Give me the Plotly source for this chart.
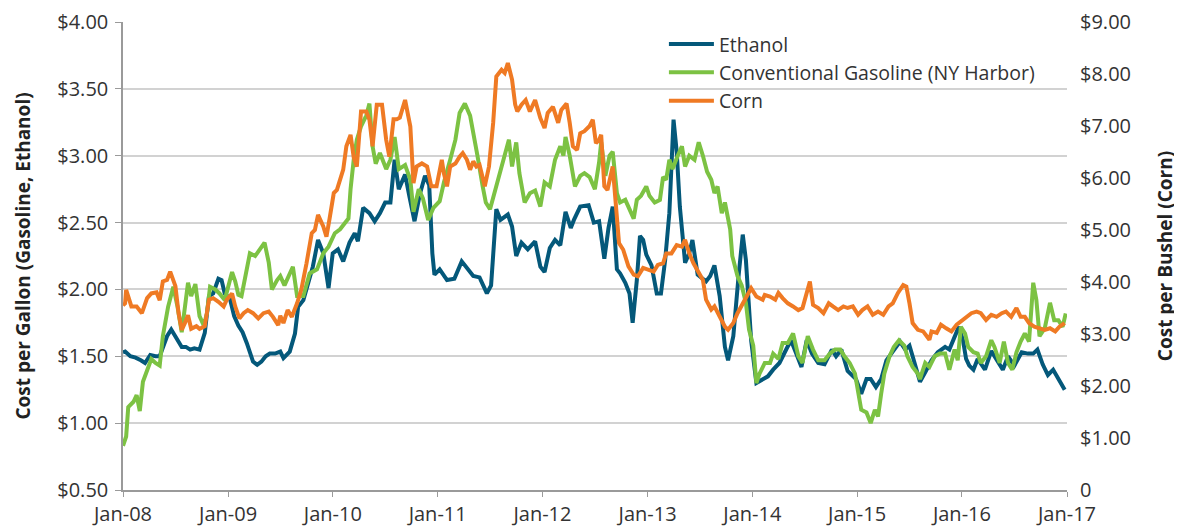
import pandas as pd
import plotly.graph_objects as go

# ---- data (time in years after Jan 2008, values in $) ----
ethanol_t = [0.00,0.02,0.07,0.12,0.17,0.21,0.26,0.31,0.35,0.38,0.42,0.46,0.51,0.56,0.60,0.64,0.68,0.73,0.78,0.82,0.86,0.91,0.94,0.97,1.02,1.06,1.10,1.14,1.18,1.24,1.28,1.32,1.36,1.40,1.45,1.50,1.53,1.59,1.64,1.67,1.72,1.77,1.81,1.86,1.91,1.96,2.00,2.05,2.10,2.16,2.21,2.24,2.29,2.35,2.40,2.45,2.50,2.55,2.59,2.63,2.69,2.73,2.78,2.83,2.88,2.92,2.95,2.97,3.02,3.09,3.16,3.23,3.29,3.34,3.40,3.47,3.51,3.56,3.60,3.67,3.71,3.75,3.80,3.86,3.93,3.98,4.02,4.07,4.12,4.17,4.22,4.27,4.30,4.36,4.44,4.49,4.54,4.59,4.63,4.67,4.71,4.74,4.79,4.83,4.86,4.90,4.93,4.96,4.99,5.04,5.09,5.13,5.17,5.21,5.25,5.28,5.31,5.36,5.40,5.43,5.48,5.56,5.60,5.64,5.69,5.74,5.77,5.82,5.87,5.91,5.94,5.99,6.04,6.10,6.15,6.20,6.26,6.33,6.37,6.42,6.47,6.52,6.57,6.63,6.69,6.76,6.80,6.85,6.91,6.99,7.04,7.09,7.13,7.18,7.23,7.28,7.33,7.38,7.41,7.46,7.50,7.53,7.57,7.60,7.65,7.71,7.77,7.84,7.88,7.93,7.97,8.01,8.04,8.07,8.11,8.15,8.22,8.28,8.34,8.39,8.44,8.50,8.57,8.63,8.68,8.72,8.77,8.82,8.87,8.93,8.98]
ethanol = [1.53,1.535,1.50,1.49,1.47,1.45,1.51,1.50,1.50,1.57,1.65,1.70,1.64,1.57,1.57,1.55,1.56,1.55,1.675,1.95,1.97,2.08,2.07,1.97,1.93,1.80,1.73,1.68,1.60,1.46,1.436,1.46,1.50,1.52,1.52,1.535,1.486,1.535,1.67,1.87,1.92,2.07,2.17,2.37,2.27,2.01,2.27,2.30,2.21,2.35,2.42,2.36,2.61,2.57,2.51,2.57,2.65,2.65,2.97,2.75,2.86,2.70,2.51,2.71,2.85,2.78,2.27,2.11,2.15,2.07,2.08,2.21,2.15,2.10,2.09,1.97,2.03,2.60,2.52,2.56,2.47,2.25,2.35,2.30,2.36,2.17,2.13,2.31,2.37,2.33,2.58,2.46,2.52,2.62,2.63,2.50,2.51,2.23,2.46,2.62,2.15,2.12,2.05,1.97,1.75,2.07,2.40,2.37,2.26,2.18,1.97,1.97,2.22,2.57,3.27,3.03,2.62,2.20,2.27,2.37,2.11,2.06,2.10,2.18,1.95,1.57,1.47,1.65,2.10,2.41,2.22,1.62,1.30,1.33,1.35,1.40,1.45,1.56,1.62,1.52,1.42,1.62,1.52,1.45,1.44,1.55,1.50,1.55,1.39,1.33,1.22,1.33,1.33,1.27,1.33,1.47,1.52,1.57,1.61,1.55,1.58,1.50,1.38,1.31,1.38,1.47,1.53,1.57,1.55,1.65,1.72,1.62,1.48,1.43,1.40,1.48,1.40,1.54,1.46,1.40,1.50,1.43,1.53,1.52,1.52,1.55,1.44,1.36,1.40,1.31,1.25]

gasoline_t = [0.00,0.03,0.05,0.10,0.13,0.16,0.19,0.24,0.27,0.31,0.35,0.38,0.43,0.48,0.52,0.56,0.59,0.62,0.65,0.69,0.73,0.77,0.80,0.83,0.88,0.92,0.97,1.00,1.04,1.07,1.10,1.13,1.17,1.21,1.26,1.31,1.35,1.39,1.42,1.47,1.50,1.54,1.58,1.62,1.66,1.72,1.78,1.85,1.91,1.96,2.02,2.07,2.12,2.15,2.17,2.20,2.23,2.27,2.32,2.35,2.38,2.41,2.45,2.51,2.55,2.59,2.63,2.69,2.74,2.77,2.82,2.86,2.91,2.96,3.02,3.06,3.12,3.17,3.21,3.26,3.31,3.34,3.38,3.43,3.46,3.50,3.55,3.59,3.64,3.68,3.71,3.75,3.78,3.83,3.88,3.93,3.98,4.02,4.07,4.12,4.17,4.20,4.22,4.26,4.31,4.36,4.40,4.45,4.50,4.54,4.56,4.60,4.64,4.67,4.71,4.74,4.79,4.83,4.87,4.90,4.94,4.99,5.02,5.07,5.12,5.15,5.18,5.21,5.24,5.29,5.33,5.36,5.40,5.45,5.49,5.53,5.57,5.61,5.64,5.67,5.71,5.74,5.77,5.79,5.81,5.86,5.90,5.94,5.97,6.01,6.04,6.07,6.12,6.17,6.20,6.25,6.29,6.34,6.39,6.44,6.48,6.53,6.58,6.63,6.69,6.74,6.79,6.84,6.88,6.93,6.98,7.01,7.04,7.09,7.13,7.17,7.20,7.23,7.26,7.31,7.35,7.40,7.45,7.48,7.53,7.58,7.60,7.65,7.69,7.74,7.79,7.84,7.88,7.93,7.96,7.99,8.03,8.06,8.11,8.15,8.18,8.23,8.28,8.31,8.36,8.40,8.44,8.48,8.52,8.56,8.60,8.64,8.68,8.71,8.74,8.79,8.84,8.88,8.92,8.96,8.99]
gasoline = [0.83,0.90,1.12,1.16,1.21,1.09,1.31,1.41,1.48,1.45,1.43,1.65,1.87,2.02,1.87,1.68,1.87,2.05,1.95,2.04,1.80,1.73,1.82,2.02,2.00,1.97,1.92,2.00,2.13,2.06,1.96,1.95,2.12,2.27,2.25,2.31,2.35,2.20,2.00,2.07,2.10,2.03,2.10,2.17,1.95,1.95,2.12,2.15,2.27,2.32,2.42,2.45,2.50,2.53,2.75,2.97,3.12,3.22,3.30,3.39,3.07,2.94,3.02,2.90,2.97,3.14,2.90,2.93,2.82,2.58,2.75,2.68,2.52,2.61,2.66,2.80,2.97,3.12,3.32,3.39,3.30,3.18,3.00,2.77,2.65,2.60,2.75,2.85,3.00,3.12,2.92,3.10,2.87,2.65,2.72,2.74,2.62,2.80,2.77,2.97,3.07,3.00,3.14,3.00,2.77,2.85,2.87,2.84,2.75,2.95,3.10,2.85,3.00,3.03,2.72,2.65,2.67,2.60,2.53,2.67,2.70,2.77,2.70,2.65,2.67,2.84,2.82,2.97,2.90,3.00,3.07,2.92,3.00,2.97,3.10,3.00,2.88,2.82,2.72,2.77,2.57,2.65,2.53,2.45,2.25,2.10,2.03,1.90,1.70,1.58,1.30,1.37,1.45,1.45,1.52,1.48,1.60,1.60,1.67,1.50,1.45,1.65,1.55,1.47,1.47,1.52,1.55,1.55,1.50,1.45,1.37,1.25,1.10,1.08,1.00,1.10,1.05,1.22,1.37,1.50,1.57,1.62,1.58,1.50,1.42,1.37,1.33,1.45,1.42,1.50,1.52,1.52,1.40,1.55,1.47,1.72,1.67,1.57,1.53,1.52,1.45,1.50,1.62,1.57,1.45,1.61,1.45,1.40,1.53,1.61,1.67,1.61,2.05,1.92,1.65,1.71,1.90,1.77,1.77,1.72,1.82]

corn_t = [0.00,0.02,0.03,0.08,0.13,0.18,0.23,0.27,0.32,0.35,0.38,0.42,0.45,0.50,0.53,0.56,0.59,0.62,0.65,0.70,0.73,0.78,0.82,0.86,0.91,0.96,0.99,1.04,1.07,1.11,1.15,1.19,1.24,1.29,1.34,1.39,1.43,1.48,1.50,1.53,1.57,1.61,1.66,1.70,1.75,1.80,1.83,1.86,1.91,1.94,1.97,2.01,2.04,2.08,2.10,2.13,2.17,2.20,2.23,2.27,2.32,2.35,2.38,2.42,2.47,2.51,2.54,2.58,2.61,2.64,2.69,2.74,2.77,2.80,2.85,2.90,2.94,2.99,3.04,3.06,3.09,3.12,3.17,3.21,3.24,3.28,3.31,3.34,3.37,3.40,3.45,3.49,3.53,3.56,3.61,3.64,3.67,3.71,3.74,3.76,3.80,3.84,3.88,3.93,3.98,4.02,4.05,4.10,4.15,4.18,4.23,4.26,4.29,4.33,4.36,4.40,4.45,4.48,4.51,4.54,4.56,4.59,4.62,4.67,4.70,4.73,4.77,4.82,4.87,4.91,4.96,5.01,5.06,5.10,5.15,5.18,5.23,5.28,5.33,5.36,5.40,5.44,5.48,5.53,5.56,5.61,5.64,5.69,5.74,5.77,5.82,5.86,5.91,5.96,5.99,6.04,6.10,6.12,6.17,6.22,6.25,6.29,6.34,6.39,6.44,6.48,6.52,6.55,6.58,6.63,6.68,6.73,6.77,6.82,6.87,6.91,6.96,7.01,7.05,7.10,7.15,7.20,7.25,7.30,7.34,7.39,7.44,7.47,7.50,7.53,7.58,7.63,7.69,7.71,7.76,7.80,7.85,7.90,7.95,7.99,8.04,8.09,8.14,8.18,8.23,8.28,8.33,8.38,8.42,8.47,8.52,8.56,8.60,8.64,8.69,8.74,8.79,8.84,8.89,8.93,8.98]
corn = [3.55,3.59,3.85,3.53,3.53,3.40,3.69,3.78,3.80,3.65,4.01,4.04,4.20,3.92,3.40,3.08,3.21,3.36,3.10,3.15,3.10,3.15,3.66,3.69,3.62,3.53,3.66,3.78,3.53,3.30,3.40,3.46,3.40,3.30,3.40,3.43,3.33,3.17,3.35,3.21,3.46,3.33,3.59,3.85,4.36,4.94,5.00,5.29,5.07,4.87,5.22,5.71,5.77,6.06,6.16,6.61,6.83,6.40,6.22,7.28,7.28,7.12,6.61,7.41,7.41,6.73,6.41,7.13,7.13,7.16,7.50,6.99,5.90,6.22,6.28,6.22,5.84,5.84,6.35,6.09,5.84,6.22,6.28,6.41,6.48,6.35,6.16,6.32,6.22,6.25,5.84,6.22,7.06,7.95,8.08,8.02,8.21,7.89,7.41,7.28,7.41,7.50,7.28,7.50,7.15,6.96,7.25,7.37,7.06,7.31,7.43,7.06,6.61,6.54,6.86,6.90,7.00,7.12,6.67,6.73,6.83,5.84,5.77,6.22,5.58,4.75,4.62,4.30,4.14,4.11,4.27,4.24,4.20,4.33,4.36,4.55,4.55,4.71,4.68,4.81,4.55,4.36,4.23,4.04,3.66,3.47,3.53,3.33,3.14,3.08,3.21,3.40,3.59,3.78,3.88,3.72,3.66,3.75,3.72,3.66,3.79,3.69,3.59,3.53,3.46,3.50,3.78,4.01,3.56,3.50,3.40,3.59,3.53,3.46,3.53,3.50,3.53,3.37,3.46,3.53,3.37,3.43,3.37,3.53,3.59,3.79,3.94,3.91,3.59,3.21,3.08,3.05,2.89,3.05,3.02,3.18,3.11,3.05,3.18,3.24,3.33,3.40,3.43,3.40,3.27,3.37,3.33,3.40,3.43,3.33,3.50,3.33,3.33,3.21,3.14,3.11,3.08,3.11,3.05,3.14,3.21]

left_ticks = [0.5, 1.0, 1.5, 2.0, 2.5, 3.0, 3.5, 4.0]
right_ticks = [0, 1, 2, 3, 4, 5, 6, 7, 8, 9]
right_labels = ["0", "$1.00", "$2.00", "$3.00", "$4.00", "$5.00", "$6.00", "$7.00", "$8.00", "$9.00"]

def to_dates(ts):
    base = pd.Timestamp("2008-01-01")
    return [base + pd.Timedelta(days=t * 365.25) for t in ts]

FONT = "Open Sans"
TXT = "#333333"
TICK_FS = 20
LEG_FS = 19.5
TITLE_FS = 19

fig = go.Figure()
fig.add_trace(go.Scatter(x=to_dates(ethanol_t), y=ethanol, name="Ethanol", mode="lines",
                         line=dict(color="#04587a", width=4)))
fig.add_trace(go.Scatter(x=to_dates(gasoline_t), y=gasoline, name="Conventional Gasoline (NY Harbor)",
                         mode="lines", line=dict(color="#7cc243", width=4)))
fig.add_trace(go.Scatter(x=to_dates(corn_t), y=corn, name="Corn", mode="lines", yaxis="y2",
                         line=dict(color="#ef7a24", width=4)))

# the page body adds an 8px offset, so the figure is drawn 8px smaller
fig.update_layout(
    width=1174, height=519,
    margin=dict(l=115, r=115, t=14, b=37, autoexpand=False),
    paper_bgcolor="white", plot_bgcolor="white",
    font=dict(family=FONT, size=TICK_FS, color=TXT),
    xaxis=dict(type="date", range=["2008-01-01", "2017-01-01"], dtick="M12",
               tick0="2008-01-01", tickformat="%b-%y", showgrid=False,
               showline=True, linecolor="#9a9a9a", linewidth=1.5,
               ticks="outside", ticklen=5, tickcolor="#9a9a9a",
               automargin=False, tickfont=dict(size=TICK_FS, color=TXT)),
    yaxis=dict(range=[0.5, 4.0], tickvals=left_ticks, tickformat="$.2f",
               showgrid=True, gridcolor="#d2d2d2", gridwidth=1.5,
               showline=True, linecolor="#9a9a9a", linewidth=1.5,
               ticks="outside", ticklen=6, tickcolor="#9a9a9a", ticklabelstandoff=3,
               zeroline=False, automargin=False, tickfont=dict(size=TICK_FS, color=TXT),
               title=dict(text="<b>Cost per Gallon (Gasoline, Ethanol)</b>",
                          font=dict(size=TITLE_FS, color="#222"), standoff=22)),
    yaxis2=dict(range=[0, 9], overlaying="y", side="right", tickvals=right_ticks,
                ticktext=right_labels, showgrid=False, showline=False, zeroline=False,
                ticks="", ticklabelstandoff=12, automargin=False,
                tickfont=dict(size=TICK_FS, color=TXT),
                title=dict(text="<b>Cost per Bushel (Corn)</b>",
                           font=dict(size=TITLE_FS, color="#222"), standoff=28)),
    legend=dict(x=0.573, y=0.994, xanchor="left", yanchor="top",
                bgcolor="rgba(0,0,0,0)", font=dict(size=LEG_FS, color=TXT),
                tracegroupgap=0, itemwidth=45),
    showlegend=True,
)

fig.write_html("out.html")
